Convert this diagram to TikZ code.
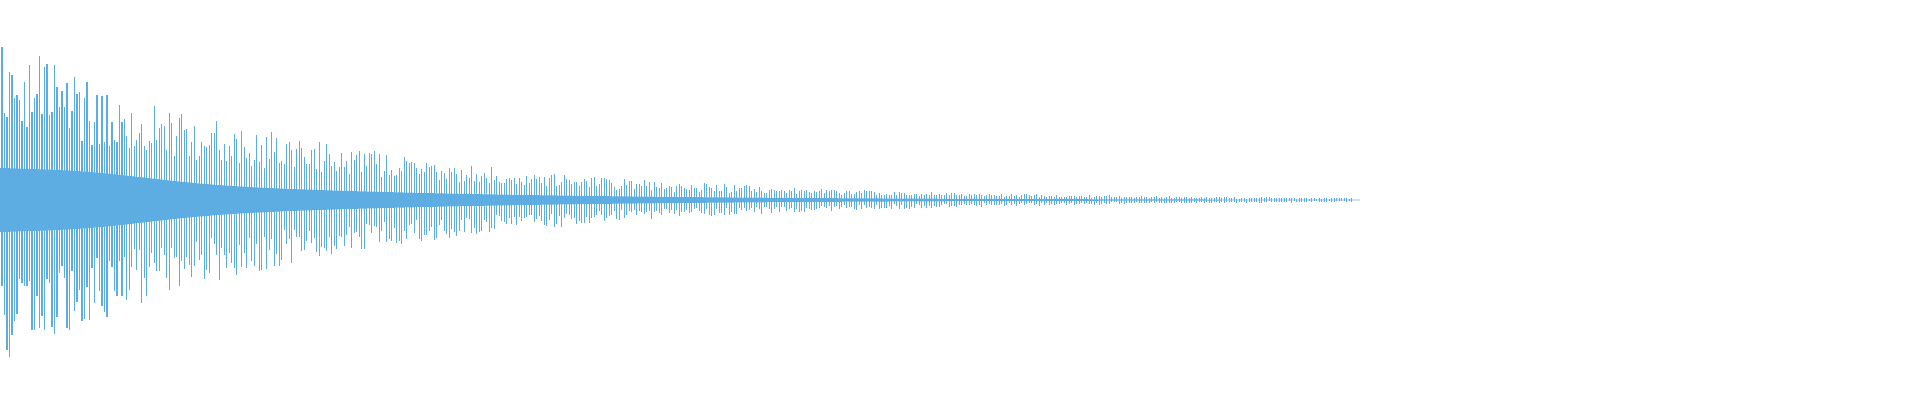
\documentclass[tikz,border=0pt]{standalone}
\definecolor{wave}{RGB}{93,173,226}
\begin{document}
\begin{tikzpicture}
\useasboundingbox (0,0) rectangle (19.2,4);
\pgfmathsetseed{7}
\fill[wave] plot[domain=0:13.6,samples=100,smooth] (\x,{2+0.36*exp(-\x/3.0)*(0.8+0.25*exp(-(\x-1.0)^2))}) -- plot[domain=13.6:0,samples=100,smooth] (\x,{2-0.36*exp(-\x/3.0)*(0.8+0.25*exp(-(\x-1.0)^2))}) -- cycle;
\foreach \i in {0,...,540}{
  \pgfmathsetmacro\x{0.02+\i*0.025}
  \pgfmathsetmacro\a{1.65*exp(-\x/3.1)}
  \pgfmathsetmacro\ra{0.45+0.55*rnd}
  \pgfmathsetmacro\rb{0.45+0.55*rnd}
  \draw[wave,line width=0.3pt] (\x,{2+\a*\ra}) -- (\x,{2-\a*\rb});
}
\end{tikzpicture}
\end{document}
